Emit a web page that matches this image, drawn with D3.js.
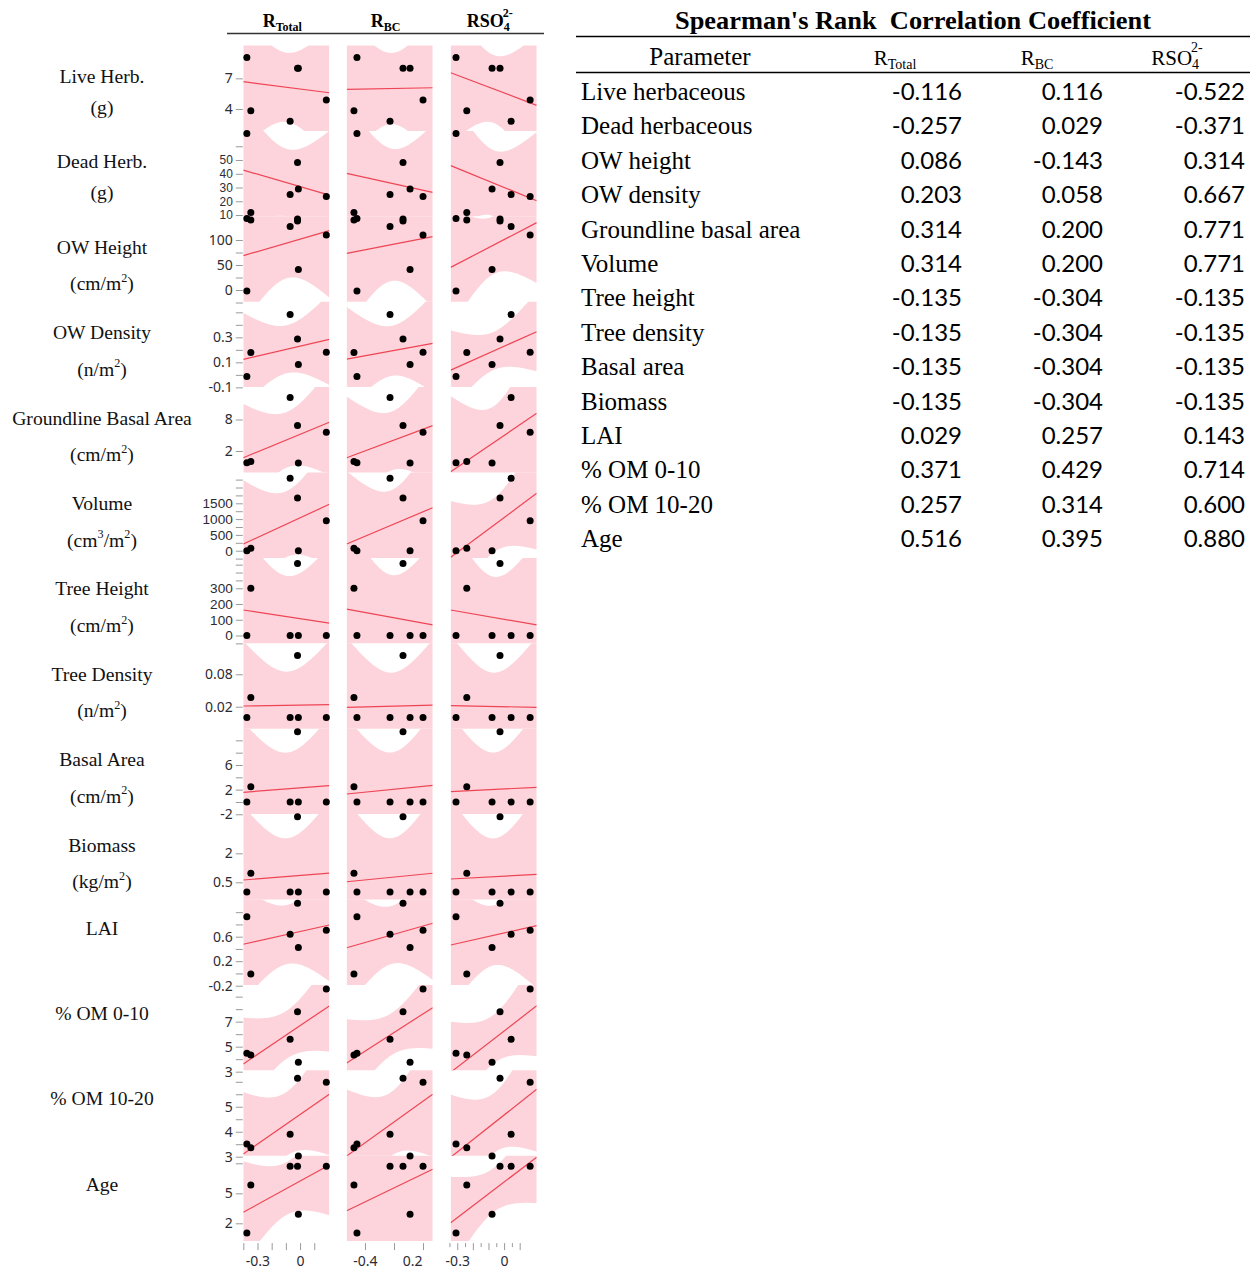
<!DOCTYPE html>
<html>
<head>
<meta charset="utf-8">
<script src="https://cdn.jsdelivr.net/npm/d3@7"></script>
<style>
  body { margin: 0; background: #fff; }
  svg { display: block; }
</style>
</head>
<body>
<svg id="chart" width="1258" height="1276"></svg>
<script>
// ---- x values of the six sites on each response axis ----
const siteRTotal = [-0.375, -0.347, -0.070, -0.018, -0.012, 0.185];
const siteRBC    = [-0.483, -0.514, -0.141, -0.007, 0.066, 0.200];
const siteRSO4   = [-0.308, -0.239, 0.045, -0.026, -0.077, 0.167];
// sites of the seven plots behind each fitted line
const fitSites = [0, 1, 2, 3, 3, 4, 5];

// ---- plotted values per parameter: [site, value] ----
const liveHerb    = [[0, 9.03], [3, 7.99], [4, 7.99], [5, 4.87], [1, 3.84], [2, 2.81], [0, 1.60]];
const deadHerb    = [[3, 48.2], [4, 28.9], [2, 24.9], [5, 23.5], [1, 11.8], [0, 7.5], [3, 7.1]];
const owHeight    = [[1, 140], [3, 138], [2, 127], [5, 110], [4, 41], [0, -2]];
const owDensity   = [[2, 0.482], [3, 0.286], [1, 0.178], [5, 0.180], [4, 0.082], [0, -0.014]];
const groundBasal = [[2, 12.19], [3, 6.86], [5, 5.56], [1, 0.0], [0, -0.23], [4, -0.29]];
const volume      = [[2, 2291], [3, 1668], [5, 949], [1, 80], [0, 0], [4, 0]];
const treeHeight  = [[3, 458], [1, 300], [0, 0], [2, 0], [4, 0], [5, 0]];
const treeDensity = [[3, 0.115], [1, 0.037], [0, 0], [2, 0], [4, 0], [5, 0]];
const basalArea   = [[3, 11.4], [1, 2.48], [0, 0], [2, 0], [4, 0], [5, 0]];
const biomass     = [[3, 3.89], [1, 0.97], [0, 0], [2, 0], [4, 0], [5, 0]];
const lai         = [[3, 1.145], [0, 0.927], [5, 0.705], [2, 0.639], [4, 0.423], [1, -0.009]];
const om010       = [[5, 9.62], [3, 7.8], [2, 5.59], [0, 4.47], [1, 4.34], [4, 3.75]];
const om1020      = [[3, 6.14], [5, 5.98], [2, 3.90], [0, 3.51], [1, 3.36], [4, 3.03]];
const age         = [[2, 7.7], [3, 7.7], [5, 7.7], [1, 5.83], [4, 2.9], [0, 1.03]];

// ---- fitted lines per response column: [value at axis start, value at axis end, 95% band half-width at mean] ----
const fitLiveHerb    = [[6.67, 5.59, 3.38], [5.92, 6.08, 3.48], [7.55, 4.36, 3.32]];
const fitDeadHerb    = [[42.7, 24.5, 24.6], [40.3, 26.5, 25.2], [45.9, 20.4, 24.0]];
const fitOwHeight    = [[68.7, 118.7, 70.4], [73.3, 106.7, 72.6], [45.3, 134.7, 58]];
const fitOwDensity   = [[0.124, 0.284, 0.192], [0.126, 0.252, 0.200], [0.038, 0.345, 0.152]];
const fitGroundBasal = [[0.72, 7.47, 5.3], [0.72, 6.82, 5.6], [-1.94, 9.17, 6.9]];
const fitVolume      = [[212, 1468, 1044], [212, 1361, 1108], [-209, 1816, 854]];
const fitTreeHeight  = [[162, 78, 259], [168, 67, 269], [162, 67, 259]];
const fitTreeDensity = [[0.0213, 0.0237, 0.0624], [0.0189, 0.0231, 0.0619], [0.0219, 0.0189, 0.0626]];
const fitBasalArea   = [[1.57, 2.64, 5.9], [1.29, 2.70, 6.0], [1.67, 2.38, 6.0]];
const fitBiomass     = [[0.62, 0.97, 1.98], [0.53, 0.97, 2.02], [0.67, 0.91, 1.98]];
const fitLai         = [[0.476, 0.791, 0.483], [0.42, 0.82, 0.473], [0.464, 0.78, 0.49]];
const fitOm010       = [[3.62, 8.26, 1.92], [3.70, 8.12, 1.68], [2.95, 8.27, 1.94]];
const fitOm1020      = [[3.11, 5.50, 1.28], [3.03, 5.50, 1.28], [2.98, 5.70, 1.20]];
const fitAge         = [[3.10, 7.83, 2.64], [3.26, 7.40, 5.60], [2.06, 8.60, 2.20]];

// ---- parameter axes ----
const rowLabels = [
  ["Live Herb.", "(g)"], ["Dead Herb.", "(g)"], ["OW Height", "(cm/m^2)"], ["OW Density", "(n/m^2)"],
  ["Groundline Basal Area", "(cm/m^2)"], ["Volume", "(cm^3/m^2)"], ["Tree Height", "(cm/m^2)"],
  ["Tree Density", "(n/m^2)"], ["Basal Area", "(cm/m^2)"], ["Biomass", "(kg/m^2)"],
  ["LAI"], ["% OM 0-10"], ["% OM 10-20"], ["Age"]
];
const rowDomains = [
  [1.86, 10.21], [9.05, 71.2], [-23.4, 147.4], [-0.098, 0.585], [-2.10, 14.17], [-228, 2475],
  [-49.6, 493], [-0.0207, 0.1374], [-1.97, 11.89], [-0.39, 4.03], [-0.187, 1.207],
  [3.11, 9.94], [3.04, 6.46], [0.22, 8.76]
];
const rowTickLabels = [
  [7, 4], [50, 40, 30, 20, 10], [100, 50, 0], [0.3, 0.1, -0.1], [8, 2], [1500, 1000, 500, 0],
  [300, 200, 100, 0], [0.08, 0.02], [6, 2, -2], [2, 0.5], [0.6, 0.2, -0.2], [7, 5, 3], [5, 4, 3], [5, 2]
];
const rowMinorTicks = [
  [], [60], [75, 25, -25], [0.5, 0.4, 0.2, 0], [], [2250, 2000, 1750, 1250, 750, 250, -250],
  [450, 400, 350, -50], [], [10, 8, 4, 0], [], [1, 0.8, 0.4, 0], [9, 8, 6, 4], [6, 5.5, 4.5, 3.5], [8]
];
const rowPoints = [liveHerb, deadHerb, owHeight, owDensity, groundBasal, volume, treeHeight,
                   treeDensity, basalArea, biomass, lai, om010, om1020, age];
const rowFits = [fitLiveHerb, fitDeadHerb, fitOwHeight, fitOwDensity, fitGroundBasal, fitVolume,
                 fitTreeHeight, fitTreeDensity, fitBasalArea, fitBiomass, fitLai, fitOm010, fitOm1020, fitAge];

// ---- response axes ----
const colSites = [siteRTotal, siteRBC, siteRSO4];
const colDomains = [[-0.4, 0.206], [-0.589, 0.300], [-0.342, 0.209]];
const colTicks = [[-0.4, -0.3, -0.2, -0.1, 0, 0.1], [-0.4, -0.1, 0.2],
                  [-0.35, -0.3, -0.25, -0.2, -0.15, -0.1, -0.05, 0, 0.05, 0.1]];
const colTickLabels = [[-0.3, 0], [-0.4, 0.2], [-0.3, 0]];

// ---- Spearman table ----
const params = ["Live herbaceous", "Dead herbaceous", "OW height", "OW density", "Groundline basal area",
  "Volume", "Tree height", "Tree density", "Basal area", "Biomass", "LAI", "% OM 0-10", "% OM 10-20", "Age"];
const rhoTotal = [-0.116, -0.257, 0.086, 0.203, 0.314, 0.314, -0.135, -0.135, -0.135, -0.135, 0.029, 0.371, 0.257, 0.516];
const rhoBC    = [0.116, 0.029, -0.143, 0.058, 0.200, 0.200, -0.304, -0.304, -0.304, -0.304, 0.257, 0.429, 0.314, 0.395];
const rhoSO4   = [-0.522, -0.371, 0.314, 0.667, 0.771, 0.771, -0.135, -0.135, -0.135, -0.135, 0.143, 0.714, 0.600, 0.880];

// ================= drawing =================
const svg = d3.select("#chart");
const SERIF = "'Liberation Serif', 'Times New Roman', serif";
const SANS = "'Noto Sans', 'Open Sans', sans-serif";
const COMPACT = "'Liberation Sans', Arial, sans-serif";
const PINK = "#fdd4db", RED = "#ee4555";

const cellW = 86, rowH = 85.4, gridTop = 45.5;
const colLeft = [243.3, 346.7, 450.7];

const xScales = colDomains.map((d, c) => d3.scaleLinear().domain(d).range([colLeft[c], colLeft[c] + cellW]));
const yScales = rowDomains.map((d, r) => d3.scaleLinear().domain(d)
  .range([gridTop + (r + 1) * rowH, gridTop + r * rowH]));

// mean and spread of the fitted x values per column
const colStats = colSites.map(s => {
  const xs = fitSites.map(i => s[i]);
  const m = d3.mean(xs);
  return { mean: m, sxx: d3.sum(xs, v => (v - m) * (v - m)), n: xs.length };
});

// superscripts written as ^n
function richText(sel, str, size) {
  const parts = str.split(/\^(\d)/);
  let up = false;
  parts.forEach((p, i) => {
    if (!p) return;
    const t = sel.append("tspan").text(p);
    if (i % 2 === 1) { t.attr("dy", -size * 0.42).attr("font-size", size * 0.62); up = true; }
    else if (up) { t.attr("dy", size * 0.42); up = false; }
  });
}

const defs = svg.append("defs");
const gBands = svg.append("g"), gLines = svg.append("g"), gPts = svg.append("g");

rowDomains.forEach((dom, r) => {
  const y = yScales[r];
  colDomains.forEach((cd, c) => {
    const x = xScales[c];
    const id = `clip-${r}-${c}`;
    defs.append("clipPath").attr("id", id).append("rect")
      .attr("x", colLeft[c]).attr("y", gridTop + r * rowH).attr("width", cellW).attr("height", rowH);
    const [v0, v1, hc] = rowFits[r][c];
    const st = colStats[c];
    const fit = xv => v0 + (v1 - v0) * (xv - cd[0]) / (cd[1] - cd[0]);
    const half = xv => hc * Math.sqrt(1 + st.n * (xv - st.mean) ** 2 / st.sxx);
    const xs = d3.range(0, 121).map(i => cd[0] + (cd[1] - cd[0]) * i / 120);
    gBands.append("path")
      .attr("clip-path", `url(#${id})`)
      .attr("fill", PINK)
      .attr("d", d3.area().x(d => x(d)).y0(d => y(fit(d) - half(d))).y1(d => y(fit(d) + half(d)))(xs));
    gLines.append("line")
      .attr("clip-path", `url(#${id})`)
      .attr("x1", x(cd[0])).attr("x2", x(cd[1]))
      .attr("y1", y(v0)).attr("y2", y(v1))
      .attr("stroke", RED).attr("stroke-width", 1.2);
    gPts.selectAll(null).data(rowPoints[r]).join("circle")
      .attr("cx", d => x(colSites[c][d[0]]))
      .attr("cy", d => y(d[1]))
      .attr("r", 3.5)
      .attr("fill", "#000");
  });

  // y axis of the row; closely spaced labels get a compact face
  const labeled = rowTickLabels[r];
  const pos = labeled.map(v => y(v)).sort((a, b) => a - b);
  const gap = d3.min(d3.pairs(pos), ([a, b]) => b - a) ?? 99;
  const dense = gap < 19.5;
  const fs = dense ? Math.min(13.6, (gap - 0.4) / 1.12) : 14;
  const ax = d3.axisLeft(y).tickValues(labeled.concat(rowMinorTicks[r]))
    .tickFormat(d => labeled.includes(d) ? String(d) : "")
    .tickSize(7).tickPadding(3);
  const g = svg.append("g").attr("transform", `translate(${colLeft[0] - 0.5},0)`).call(ax);
  g.select(".domain").remove();
  g.selectAll(".tick line").attr("stroke", "#9a9a9a");
  g.selectAll(".tick text")
    .attr("font-family", dense ? COMPACT : SANS)
    .attr("font-size", fs).attr("fill", "#2b2b35");

  // row caption
  const lines = rowLabels[r];
  const top = gridTop + r * rowH;
  lines.forEach((txt, k) => {
    let cy;
    if (k === 0) cy = top + (lines.length === 2 ? 31.5 : 29);
    else cy = top + (txt.includes("^") ? 68 : 62);
    const t = svg.append("text").attr("x", 102).attr("y", cy + 6)
      .attr("text-anchor", "middle").attr("font-family", SERIF).attr("font-size", 19.6).attr("fill", "#111");
    richText(t, txt, 19.6);
  });
});

// bottom axes
const axisY = gridTop + 14 * rowH + 2;
colDomains.forEach((cd, c) => {
  const labels = colTickLabels[c];
  const ax = d3.axisBottom(xScales[c]).tickValues(colTicks[c])
    .tickFormat(d => labels.some(l => Math.abs(l - d) < 1e-9) ? String(d) : "")
    .tickSize(7).tickPadding(6);
  const g = svg.append("g").attr("transform", `translate(0,${axisY})`).call(ax);
  g.select(".domain").remove();
  g.selectAll(".tick line").attr("stroke", "#9a9a9a")
    .attr("y2", d => (c === 2 && Math.abs(Math.round(d * 10) - d * 10) > 1e-6) ? 4 : 7);
  g.selectAll(".tick text").attr("font-family", SANS).attr("font-size", 14).attr("fill", "#2b2b35")
    .attr("dx", d => (c === 1 && d > 0) ? -11 : 0);
});

// column headers
const headG = svg.append("g").attr("font-family", SERIF).attr("font-weight", "bold").attr("fill", "#000");
const heads = [["R", "Total", ""], ["R", "BC", ""], ["RSO", "4", "2-"]];
heads.forEach((h, c) => {
  const t = headG.append("text").attr("x", colLeft[c] + cellW / 2 - 4).attr("y", 27)
    .attr("text-anchor", "middle").attr("font-size", 18);
  t.append("tspan").text(h[0]);
  t.append("tspan").text(h[1]).attr("font-size", 12).attr("dy", 4);
  if (h[2]) t.append("tspan").text(h[2]).attr("font-size", 12).attr("dx", -7).attr("dy", -14);
});
svg.append("line").attr("x1", 227).attr("x2", 544).attr("y1", 33.5).attr("y2", 33.5)
  .attr("stroke", "#333").attr("stroke-width", 1.3);

// ---- table ----
const tab = svg.append("g");
tab.append("text").attr("x", 913).attr("y", 29).attr("text-anchor", "middle")
  .attr("font-family", SERIF).attr("font-weight", "bold").attr("font-size", 25)
  .attr("textLength", 476).attr("lengthAdjust", "spacingAndGlyphs")
  .text("Spearman's Rank\u00a0\u00a0Correlation Coefficient");
tab.append("line").attr("x1", 576).attr("x2", 1250).attr("y1", 36.5).attr("y2", 36.5).attr("stroke", "#000").attr("stroke-width", 1.3);
tab.append("line").attr("x1", 576).attr("x2", 1250).attr("y1", 72.5).attr("y2", 72.5).attr("stroke", "#000").attr("stroke-width", 1.3);
tab.append("text").attr("x", 700).attr("y", 65).attr("text-anchor", "middle")
  .attr("font-family", SERIF).attr("font-size", 25).text("Parameter");

const tHeads = [[895, "R", "Total", ""], [1037, "R", "BC", ""], [1177, "RSO", "4", "2-"]];
tHeads.forEach(([cx, a, sub, sup]) => {
  const t = tab.append("text").attr("x", cx).attr("y", 65).attr("text-anchor", "middle")
    .attr("font-family", SERIF).attr("font-size", 21);
  t.append("tspan").text(a);
  t.append("tspan").text(sub).attr("font-size", 14).attr("dy", 4);
  if (sup) t.append("tspan").text(sup).attr("font-size", 14).attr("dx", -8).attr("dy", -17);
});

const rowBase = i => 100 + i * 34.4;
tab.selectAll(null).data(params).join("text")
  .attr("x", 581).attr("y", (d, i) => rowBase(i))
  .attr("font-family", SERIF).attr("font-size", 25).text(d => d);
[[rhoTotal, 962], [rhoBC, 1103], [rhoSO4, 1245]].forEach(([vals, rx]) => {
  tab.selectAll(null).data(vals).join("text")
    .attr("x", rx).attr("y", (d, i) => rowBase(i)).attr("text-anchor", "end")
    .attr("font-family", "Lato, 'Open Sans', sans-serif").attr("font-size", 24)
    .text(d => d.toFixed(3));
});
</script>
</body>
</html>
